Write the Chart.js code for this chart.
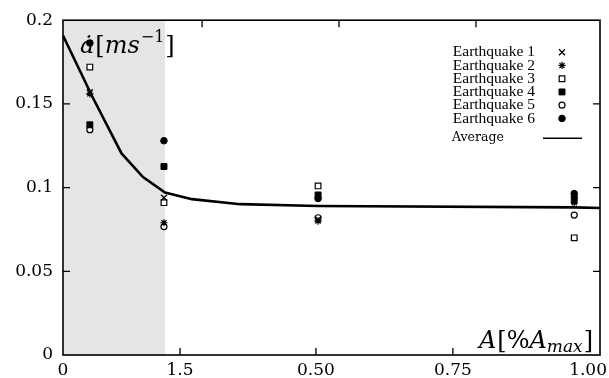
<!DOCTYPE html>
<html>
<head>
<meta charset="utf-8">
<script src="https://cdn.jsdelivr.net/npm/chart.js@4.4.1/dist/chart.umd.min.js"></script>
<style>
  html, body { margin: 0; padding: 0; background: #fff; }
  #wrap { width: 609px; height: 378px; }
</style>
</head>
<body>
<div id="wrap"><canvas id="chart"></canvas></div>
<script>
// x position of the four measurement columns (fraction of axis)
const colX = [0.050, 0.188, 0.475, 0.952];

// peak velocity per earthquake, one value per column
const eq1 = [0.157, 0.094, 0.081, 0.092];
const eq2 = [0.156, 0.079, 0.080, 0.091];
const eq3 = [0.172, 0.091, 0.101, 0.070];
const eq4 = [0.1375, 0.1126, 0.0956, 0.0935];
const eq5 = [0.1346, 0.0767, 0.082, 0.0836];
const eq6 = [0.1864, 0.128, 0.0935, 0.0964];

// average curve
const avgX = [0, 0.054, 0.109, 0.149, 0.190, 0.240, 0.330, 0.475, 0.952, 1.0];
const avgY = [0.1908, 0.1547, 0.1204, 0.1063, 0.0970, 0.0931, 0.0901, 0.0890, 0.0882, 0.0878];

const legendNames = ['Earthquake 1', 'Earthquake 2', 'Earthquake 3', 'Earthquake 4', 'Earthquake 5', 'Earthquake 6'];

const yTicks = [0, 0.05, 0.1, 0.15, 0.2];
const yTickLabels = ['0', '0.05', '0.1', '0.15', '0.2'];
const xTicks = [0, 0.218, 0.471, 0.726, 1];
const xTickLabels = ['0', '1.5', '0.50', '0.75', '1.00'];
const xTicksTop = [0.259, 0.514, 0.769];
const shadeTo = 0.19;

const marks = [
  { pointStyle: 'crossRot', radius: 4.2, bg: '#000', bw: 1.3 },
  { pointStyle: 'star', radius: 3.6, bg: '#000', bw: 1.2 },
  { pointStyle: 'rect', radius: 4.0, bg: '#fff', bw: 1.2 },
  { pointStyle: 'rect', radius: 4.2, bg: '#000', bw: 1 },
  { pointStyle: 'circle', radius: 3.0, bg: '#fff', bw: 1.2 },
  { pointStyle: 'circle', radius: 3.3, bg: '#000', bw: 1 }
];

const series = [eq1, eq2, eq3, eq4, eq5, eq6];
const datasets = series.map((vals, i) => ({
  label: legendNames[i],
  data: vals.map((v, j) => ({ x: colX[j], y: v })),
  pointStyle: marks[i].pointStyle,
  pointRadius: marks[i].radius,
  pointBackgroundColor: marks[i].bg,
  pointBorderColor: '#000',
  pointBorderWidth: marks[i].bw,
  showLine: false
}));
datasets.unshift({
  label: 'Average',
  data: avgX.map((x, i) => ({ x, y: avgY[i] })),
  showLine: true,
  borderColor: '#000',
  borderWidth: 2.6,
  pointRadius: 0,
  tension: 0
});

// draws a run of text pieces with different fonts
function drawRich(ctx, parts, x, y) {
  let cx = x;
  parts.forEach(p => {
    ctx.font = p.font;
    ctx.fillText(p.t, cx, y + (p.dy || 0));
    cx += ctx.measureText(p.t).width + (p.gap || 0);
  });
}
function richWidth(ctx, parts) {
  let w = 0;
  parts.forEach(p => { ctx.font = p.font; w += ctx.measureText(p.t).width + (p.gap || 0); });
  return w;
}

const decor = {
  id: 'decor',
  beforeDatasetsDraw(chart) {
    const { ctx, chartArea: a, scales: { x } } = chart;
    ctx.save();
    ctx.fillStyle = '#e5e5e5';
    ctx.fillRect(a.left, a.top, x.getPixelForValue(shadeTo) - a.left, a.bottom - a.top);
    ctx.restore();
  },
  afterDatasetsDraw(chart) {
    const { ctx, chartArea: a, scales: { x, y } } = chart;
    ctx.save();
    ctx.strokeStyle = '#000';
    ctx.fillStyle = '#000';

    // frame and inward ticks
    ctx.lineWidth = 1.6;
    ctx.strokeRect(a.left, a.top, a.right - a.left, a.bottom - a.top);
    ctx.lineWidth = 1.3;
    ctx.beginPath();
    xTicks.slice(1, -1).forEach(v => {
      const px = x.getPixelForValue(v);
      ctx.moveTo(px, a.bottom); ctx.lineTo(px, a.bottom - 7);
    });
    xTicksTop.forEach(v => {
      const px = x.getPixelForValue(v);
      ctx.moveTo(px, a.top); ctx.lineTo(px, a.top + 7);
    });
    yTicks.slice(1, -1).forEach(v => {
      const py = y.getPixelForValue(v);
      ctx.moveTo(a.left, py); ctx.lineTo(a.left + 7, py);
      ctx.moveTo(a.right, py); ctx.lineTo(a.right - 7, py);
    });
    ctx.stroke();

    // x tick labels
    ctx.font = '17px "DejaVu Serif"';
    ctx.textBaseline = 'middle';
    xTickLabels.forEach((t, i) => {
      const px = x.getPixelForValue(xTicks[i]);
      const w = ctx.measureText(t).width;
      let left = px - w / 2;
      if (left + w > chart.width - 2) left = chart.width - 2 - w;
      ctx.textAlign = 'left';
      ctx.fillText(t, left, a.bottom + 16);
    });

    // axis titles
    ctx.textBaseline = 'alphabetic';
    ctx.textAlign = 'left';
    const it = 'italic 24px "DejaVu Serif"';
    const up = '24px "DejaVu Serif"';
    drawRich(ctx, [
      { t: '\u0227', font: it, gap: 1 },
      { t: '[', font: up },
      { t: 'ms', font: it, gap: 1 },
      { t: '\u22121', font: '16px "DejaVu Serif"', dy: -11, gap: 1 },
      { t: ']', font: up }
    ], a.left + 17, a.top + 33);

    const xt = [
      { t: 'A', font: it, gap: 1 },
      { t: '[%', font: up },
      { t: 'A', font: it },
      { t: 'max', font: 'italic 17px "DejaVu Serif"', dy: 4, gap: 1 },
      { t: ']', font: up }
    ];
    drawRich(ctx, xt, a.right - 7 - richWidth(ctx, xt), a.bottom - 7);

    // legend
    const mx = a.right - 38;
    ctx.font = '15.5px "Liberation Serif"';
    ctx.textAlign = 'right';
    ctx.textBaseline = 'middle';
    legendNames.forEach((name, i) => {
      const ly = a.top + 32 + i * 13.25;
      ctx.fillStyle = '#000';
      ctx.fillText(name, a.right - 65, ly);
      ctx.fillStyle = marks[i].bg;
      ctx.strokeStyle = '#000';
      ctx.lineWidth = marks[i].bw;
      Chart.helpers.drawPoint(ctx, { pointStyle: marks[i].pointStyle, radius: marks[i].radius, rotation: 0, borderWidth: marks[i].bw }, mx, ly);
    });
    const ay = a.top + 118;
    ctx.fillStyle = '#000';
    ctx.textAlign = 'left';
    ctx.font = '12.5px "DejaVu Serif"';
    ctx.fillText('Average', a.right - 148, ay);
    ctx.lineWidth = 1.6;
    ctx.beginPath();
    ctx.moveTo(a.right - 57, ay); ctx.lineTo(a.right - 18, ay);
    ctx.stroke();
    ctx.restore();
  }
};

new Chart(document.getElementById('chart'), {
  type: 'scatter',
  data: { datasets },
  options: {
    responsive: true,
    maintainAspectRatio: false,
    animation: false,
    layout: { padding: { top: 16, right: 9, left: 0, bottom: 0 } },
    plugins: { legend: { display: false }, tooltip: { enabled: false } },
    scales: {
      x: {
        type: 'linear', min: 0, max: 1,
        ticks: { display: false },
        grid: { display: false, drawTicks: false },
        border: { display: false },
        afterFit: s => { s.height = 23; }
      },
      y: {
        min: 0, max: 0.2,
        afterBuildTicks: s => { s.ticks = yTicks.map(v => ({ value: v })); },
        ticks: {
          callback: (v, i) => yTickLabels[i],
          font: { family: 'DejaVu Serif', size: 17 },
          color: '#000',
          padding: 10
        },
        grid: { display: false, drawTicks: false },
        border: { display: false },
        afterFit: s => { s.width = 63; }
      }
    }
  },
  plugins: [decor]
});
</script>
</body>
</html>
